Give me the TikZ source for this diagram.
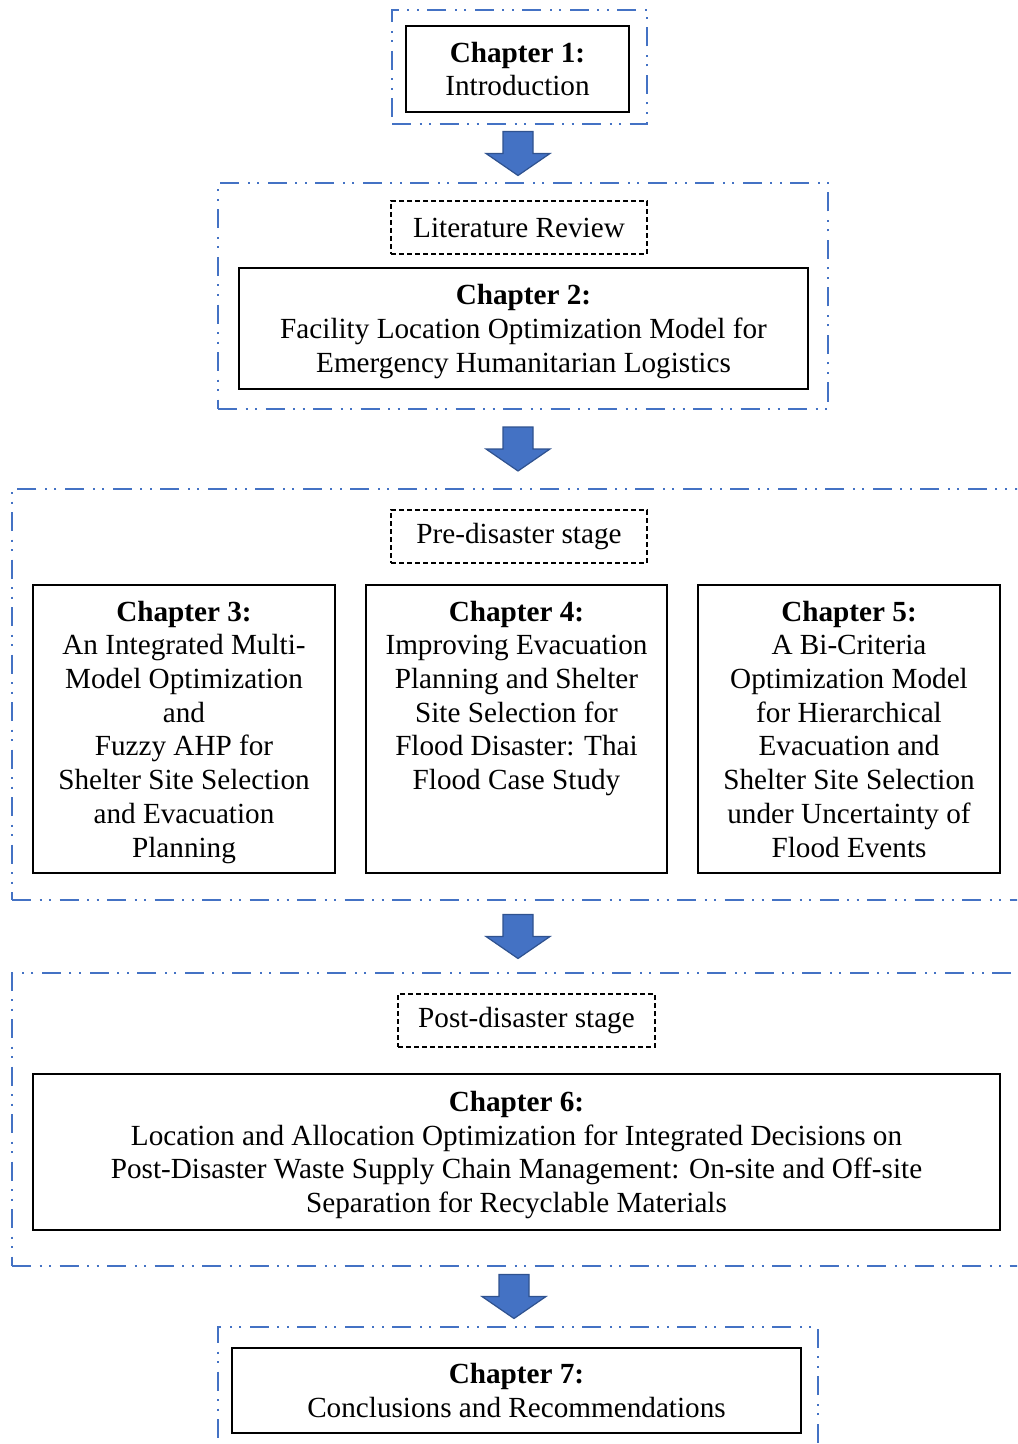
\documentclass[tikz,border=0pt]{standalone}
\usepackage{xcolor}
\usepackage{fontspec}
\setmainfont{Liberation Serif}
\usepackage{tikz}
\usetikzlibrary{positioning,calc}

\definecolor{grpblue}{HTML}{4472C4}
\definecolor{arrline}{HTML}{2F528F}

\tikzset{
  groupbox/.style={draw=grpblue, line width=1pt, minimum width=#1, inner sep=0pt,
    dash pattern=on 9.5pt off 4.25pt on 1pt off 3.75pt on 1pt off 4.25pt},
  stagebox/.style={draw=black, line width=0.6pt, dash pattern=on 2.5pt off 1.5pt,
    minimum width=128pt, minimum height=26.5pt, inner sep=0pt},
  chapbox/.style={draw=black, line width=1pt, align=center, inner sep=0pt, text depth=0pt},
  flowarrow/.style={fill=grpblue, draw=arrline, line width=0.6pt, line join=miter}
}

% block arrow centred in the gap between two groups
\newcommand{\flowarrow}[3]{%
  \path ($(#1.south)!0.5!(#2.north)$) coordinate (arrmid);
  \coordinate (arrx) at (#3,0);
  \filldraw[flowarrow, shift={(arrx |- arrmid)}]
    (-15,-22) -- (15,-22) -- (15,0) -- (32,0) -- (0,22) -- (-32,0) -- (-15,0) -- cycle;
}

\begin{document}
\begin{tikzpicture}[x=0.5pt, y=-0.5pt,
  every node/.style={font=\fontsize{14.6pt}{16.85pt}\selectfont}]

\useasboundingbox (0,0) rectangle (1017,1444);
\clip (0,0) rectangle (1017,1444);

% Dash-dot groups
\node[groupbox=127.5pt, minimum height=57pt] (g1) at (519.5,67) {};
\node[groupbox=305pt, minimum height=113pt] (g2) at (523,296) {};
\node[groupbox=509pt, minimum height=205.5pt] (g3) at (521,694.5) {};
\node[groupbox=509pt, minimum height=146.5pt] (g4) at (521,1119.5) {};
\node[groupbox=300pt, minimum height=66.5pt] (g5) at (518,1393.5) {};

% Stage labels
\node[stagebox] (review) at (519,227.5) {Literature Review};
\node[stagebox] (pre) at (519,536.5) {Pre-disaster stage};
\node[stagebox, minimum width=128.5pt] (post) at (526.5,1020.5) {Post-disaster stage};

% Chapter boxes
\node[chapbox, minimum width=111.5pt, minimum height=43pt] (ch1) at (517.5,69)
  {\textbf{Chapter 1:}\\Introduction};
\node[chapbox, minimum width=284.5pt, minimum height=60.5pt] (ch2) at (523.5,328.5)
  {\textbf{Chapter 2:}\\Facility Location Optimization Model for\\Emergency Humanitarian Logistics};
\node[chapbox, minimum width=151pt, minimum height=144pt] (ch3) at (184,729)
  {\textbf{Chapter 3:}\\An Integrated Multi-\\Model Optimization\\and\\Fuzzy AHP for\\Shelter Site Selection\\and Evacuation\\Planning};
\node[chapbox, minimum width=150.5pt, minimum height=144pt] (ch4) at (516.5,729)
  {\textbf{Chapter 4:}\\Improving Evacuation\\Planning and Shelter\\Site Selection for\\Flood Disaster: Thai\\Flood Case Study\\~\\~};
\node[chapbox, minimum width=151pt, minimum height=144pt] (ch5) at (849,729)
  {\textbf{Chapter 5:}\\A Bi-Criteria\\Optimization Model\\for Hierarchical\\Evacuation and\\Shelter Site Selection\\under Uncertainty of\\Flood Events};
\node[chapbox, minimum width=483.5pt, minimum height=78pt] (ch6) at (516.5,1152)
  {\textbf{Chapter 6:}\\Location and Allocation Optimization for Integrated Decisions on\\Post-Disaster Waste Supply Chain Management: On-site and Off-site\\Separation for Recyclable Materials};
\node[chapbox, minimum width=284.5pt, minimum height=42.5pt] (ch7) at (516.5,1390.5)
  {\textbf{Chapter 7:}\\Conclusions and Recommendations};

% Arrows between groups
\flowarrow{g1}{g2}{518}
\flowarrow{g2}{g3}{518}
\flowarrow{g3}{g4}{518}
\flowarrow{g4}{g5}{514}

\end{tikzpicture}
\end{document}
